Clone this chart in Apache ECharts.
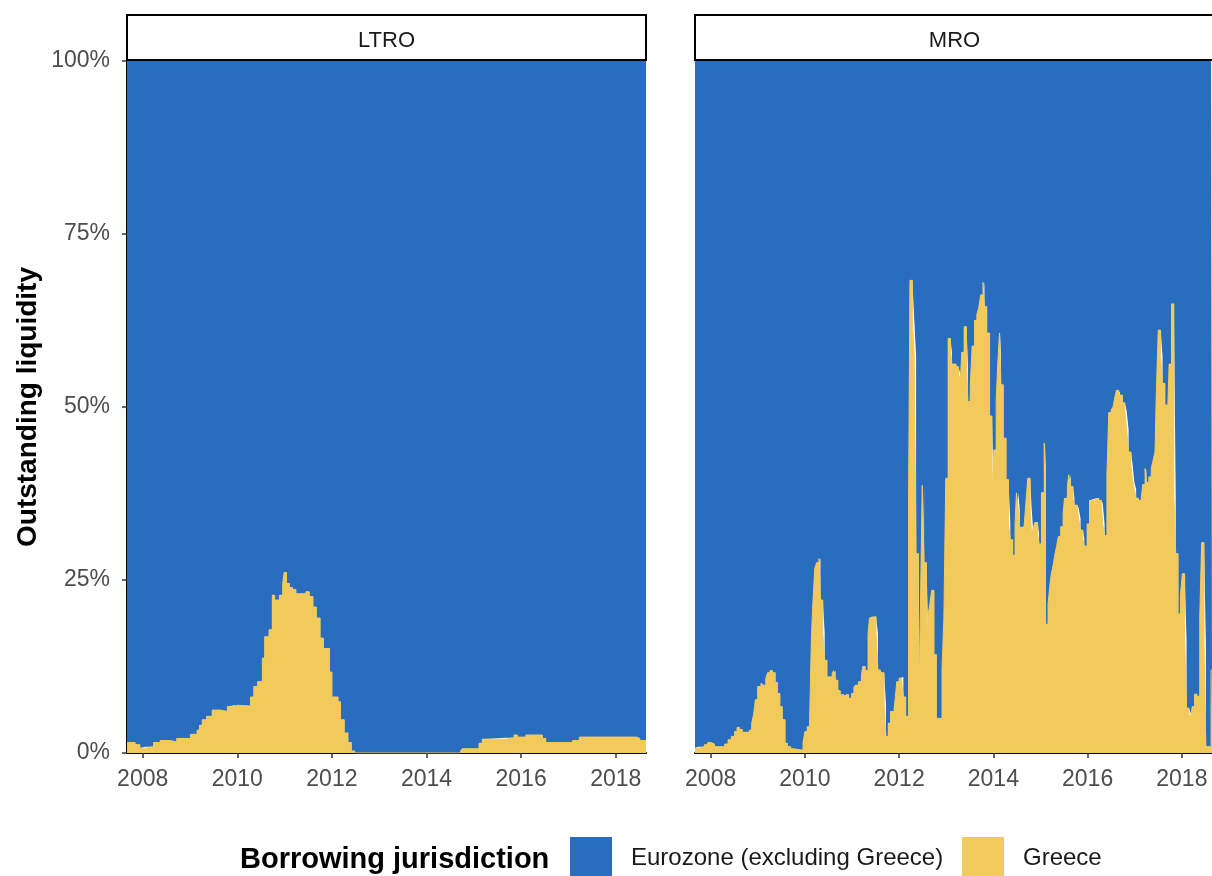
<!DOCTYPE html>
<html><head><meta charset="utf-8">
<script src="https://cdn.jsdelivr.net/npm/echarts@6/dist/echarts.min.js"></script>
<style>html,body{margin:0;padding:0;background:#fff}#c{width:1212px;height:876px}</style>
</head><body><div id="c"></div>
<script>
// ---------------- data ----------------
const facets = ['LTRO', 'MRO'];
const seriesNames = ['Eurozone (excluding Greece)', 'Greece'];
const legendTitle = 'Borrowing jurisdiction';
const yTitle = 'Outstanding liquidity';
const yTicks = [0, 25, 50, 75, 100];
const xTicks = [2008, 2010, 2012, 2014, 2016, 2018];
const xRange = [2007.668, 2018.64];

// Greece share (%) of outstanding LTRO liquidity; each value holds from its date to the next date
const ltroDates = [2007.668, 2007.84, 2007.94, 2008.05, 2008.23, 2008.37, 2008.58, 2008.72, 2009.01, 2009.15,
  2009.20, 2009.26, 2009.35, 2009.47, 2009.65, 2009.79, 2009.93, 2010.00, 2010.28, 2010.35,
  2010.43, 2010.53, 2010.58, 2010.67, 2010.74, 2010.79, 2010.89, 2010.96, 2010.99, 2011.04,
  2011.10, 2011.17, 2011.24, 2011.45, 2011.52, 2011.60, 2011.67, 2011.75, 2011.82, 2011.95,
  2012.00, 2012.13, 2012.18, 2012.26, 2012.34, 2012.41, 2012.48, 2014.72, 2014.75, 2015.11,
  2015.18, 2015.67, 2015.85, 2015.92, 2016.10, 2016.45, 2016.52, 2017.09, 2017.23, 2018.44,
  2018.51, 2018.64];
const ltroGreece = [1.5, 1.2, 0.7, 0.9, 1.5, 1.8, 1.6, 2.1, 2.7, 3.3,
  4.0, 4.8, 5.3, 6.2, 6.0, 6.7, 6.9, 6.8, 8.1, 9.6,
  10.3, 13.7, 16.8, 17.8, 22.8, 22.1, 22.8, 24.5, 26.1, 24.5,
  23.9, 23.6, 23.0, 23.3, 22.6, 21.1, 19.5, 16.6, 15.1, 11.7,
  8.1, 7.4, 4.8, 2.9, 1.5, 0.3, 0, 0.3, 0.6, 1.4,
  2.0, 2.2, 2.6, 2.3, 2.6, 2.1, 1.5, 1.8, 2.3, 2.1,
  1.8, 1.8];

// Greece share (%) of outstanding MRO liquidity
const mroDates = [2007.668, 2007.73, 2007.87, 2007.94, 2008.01, 2008.08, 2008.30, 2008.37, 2008.44, 2008.51,
  2008.56, 2008.61, 2008.67, 2008.82, 2008.87, 2008.91, 2008.95, 2009.00, 2009.07, 2009.10,
  2009.17, 2009.21, 2009.26, 2009.31, 2009.37, 2009.42, 2009.47, 2009.52, 2009.58, 2009.63,
  2009.70, 2009.77, 2009.96, 2010.00, 2010.05, 2010.10, 2010.14, 2010.17, 2010.21, 2010.25,
  2010.30, 2010.33, 2010.38, 2010.42, 2010.47, 2010.58, 2010.61, 2010.65, 2010.70, 2010.75,
  2010.83, 2010.87, 2010.93, 2010.99, 2011.04, 2011.07, 2011.14, 2011.20, 2011.23, 2011.28,
  2011.34, 2011.37, 2011.41, 2011.51, 2011.55, 2011.60, 2011.68, 2011.72, 2011.77, 2011.82,
  2011.87, 2011.91, 2011.95, 2012.00, 2012.05, 2012.09, 2012.14, 2012.20, 2012.23, 2012.28,
  2012.32, 2012.36, 2012.41, 2012.45, 2012.49, 2012.53, 2012.58, 2012.62, 2012.65, 2012.69,
  2012.74, 2012.79, 2012.91, 2012.95, 2012.99, 2013.04, 2013.09, 2013.12, 2013.21, 2013.26,
  2013.30, 2013.33, 2013.38, 2013.43, 2013.46, 2013.51, 2013.55, 2013.60, 2013.65, 2013.69,
  2013.73, 2013.78, 2013.81, 2013.86, 2013.92, 2013.97, 2014.01, 2014.06, 2014.09, 2014.13,
  2014.16, 2014.21, 2014.27, 2014.32, 2014.36, 2014.41, 2014.46, 2014.49, 2014.53, 2014.56,
  2014.65, 2014.69, 2014.73, 2014.78, 2014.81, 2014.85, 2014.88, 2014.94, 2014.97, 2015.02,
  2015.08, 2015.11, 2015.16, 2015.20, 2015.23, 2015.27, 2015.30, 2015.34, 2015.38, 2015.43,
  2015.48, 2015.51, 2015.57, 2015.60, 2015.64, 2015.69, 2015.72, 2015.78, 2015.81, 2015.85,
  2015.90, 2015.93, 2015.99, 2016.04, 2016.13, 2016.18, 2016.24, 2016.29, 2016.32, 2016.36,
  2016.41, 2016.45, 2016.50, 2016.54, 2016.57, 2016.61, 2016.66, 2016.69, 2016.74, 2016.79,
  2016.83, 2016.87, 2016.92, 2016.96, 2016.99, 2017.03, 2017.08, 2017.13, 2017.17, 2017.22,
  2017.25, 2017.30, 2017.35, 2017.39, 2017.43, 2017.46, 2017.50, 2017.55, 2017.59, 2017.64,
  2017.69, 2017.73, 2017.78, 2017.83, 2017.87, 2017.92, 2017.97, 2018.01, 2018.06, 2018.10,
  2018.15, 2018.19, 2018.22, 2018.27, 2018.32, 2018.38, 2018.42, 2018.47, 2018.51, 2018.62,
  2018.64];
const mroGreece = [0.7, 0.9, 1.2, 1.5, 1.3, 0.9, 1.3, 1.9, 2.4, 3.1,
  3.7, 3.4, 3.0, 3.3, 4.3, 5.5, 7.7, 9.6, 10.1, 9.8,
  10.8, 11.6, 11.9, 11.6, 10.2, 8.6, 6.7, 4.8, 1.4, 0.9,
  0.6, 0.4, 1.5, 3.1, 3.8, 4.8, 17.1, 21.7, 26.7, 27.5,
  28.1, 22.1, 17.3, 13.4, 11.0, 11.5, 11.9, 10.5, 9.0, 8.4,
  8.1, 8.4, 7.9, 8.6, 9.5, 9.8, 10.3, 11.3, 12.5, 11.9,
  17.1, 19.5, 19.7, 17.3, 12.0, 11.6, 7.1, 2.4, 4.3, 6.0,
  4.8, 7.4, 10.3, 10.8, 11.0, 8.1, 5.3, 36.8, 68.3, 62.8,
  57.3, 28.8, 0.4, 19.7, 38.7, 27.5, 16.3, 20.2, 21.4, 23.5,
  14.2, 5.0, 12.1, 19.5, 39.7, 59.9, 57.9, 56.2, 55.8, 54.7,
  53.9, 57.9, 61.6, 56.1, 50.8, 53.0, 58.8, 62.5, 63.4, 64.3,
  66.2, 68.0, 64.5, 60.7, 48.7, 36.7, 43.8, 50.9, 55.8, 60.7,
  53.2, 45.5, 39.5, 33.1, 30.8, 28.6, 33.1, 37.6, 35.1, 32.6,
  32.8, 36.1, 39.7, 35.6, 31.6, 32.6, 33.3, 31.7, 30.2, 37.6,
  44.8, 18.6, 21.5, 24.3, 25.9, 27.2, 28.5, 29.8, 31.3, 32.7,
  34.6, 36.8, 38.5, 40.2, 38.5, 36.8, 35.8, 35.4, 33.9, 32.2,
  31.0, 29.9, 33.1, 36.5, 36.7, 36.8, 36.5, 36.1, 33.1, 31.4,
  40.2, 49.2, 49.6, 50.0, 51.1, 52.4, 52.0, 51.7, 50.6, 49.4,
  46.7, 43.5, 41.4, 39.2, 38.1, 36.8, 36.5, 36.2, 38.8, 41.1,
  39.1, 39.9, 41.1, 42.3, 43.5, 52.5, 61.1, 57.3, 53.4, 50.3,
  47.3, 56.2, 64.9, 37.3, 28.8, 20.1, 22.8, 25.9, 16.3, 6.5,
  5.7, 5.1, 6.7, 8.5, 8.2, 19.5, 30.4, 15.8, 0.9, 12.0,
  12.0];

// ---------------- chart ----------------
const BLUE = '#2A6DBF', YELLOW = '#F2CA5C';
const FONT = '"Liberation Sans", Arial, sans-serif';

// rows are [share, date] so that the share column is the one that gets stacked
function build(dates, vals) {
  const n = Math.min(dates.length, vals.length);
  const g = [], e = [];
  for (let i = 0; i < n; i++) {
    g.push([vals[i], dates[i]]);
    e.push([100 - vals[i], dates[i]]);
  }
  return { g, e };
}

const panels = [
  { name: facets[0], data: build(ltroDates, ltroGreece), left: 127 },
  { name: facets[1], data: build(mroDates, mroGreece), left: 695 }
];
const PW = 519, PT = 61, PH = 692;

const grids = [], xAxes = [], yAxes = [], series = [], graphics = [];
panels.forEach((p, i) => {
  grids.push({ left: p.left, top: PT, width: PW, height: PH, containLabel: false });
  xAxes.push({
    type: 'value', gridIndex: i, min: xRange[0], max: xRange[1],
    axisLine: { show: true, onZero: false, lineStyle: { color: '#000', width: 2 } },
    axisTick: { show: true, customValues: xTicks, length: 5, lineStyle: { color: '#333', width: 1.5 } },
    axisLabel: {
      customValues: xTicks, color: '#4D4D4D', fontSize: 23, fontFamily: FONT, margin: 15,
      formatter: v => String(v)
    },
    splitLine: { show: false }, minorTick: { show: false }
  });
  yAxes.push({
    type: 'value', gridIndex: i, min: yTicks[0], max: yTicks[yTicks.length - 1], interval: 25,
    axisLine: { show: i === 0, onZero: false, lineStyle: { color: '#000', width: 2 } },
    axisTick: { show: i === 0, length: 5, lineStyle: { color: '#333', width: 1.5 } },
    axisLabel: { show: i === 0, formatter: '{value}%', color: '#4D4D4D', fontSize: 23, fontFamily: FONT, margin: 17 },
    splitLine: { show: false }
  });
  const common = {
    type: 'line', xAxisIndex: i, yAxisIndex: i, encode: { x: 1, y: 0 },
    step: 'end', stack: 'share' + i, symbol: 'none', showSymbol: false,
    emphasis: { disabled: true }
  };
  series.push(Object.assign({}, common, {
    name: seriesNames[1], data: p.data.g,
    lineStyle: { width: 1, color: YELLOW }, itemStyle: { color: YELLOW },
    areaStyle: { color: YELLOW, opacity: 1 }, z: 3
  }));
  series.push(Object.assign({}, common, {
    name: seriesNames[0], data: p.data.e,
    lineStyle: { width: 0, color: BLUE }, itemStyle: { color: BLUE },
    areaStyle: { color: BLUE, opacity: 1 }, z: 2
  }));
  graphics.push({
    type: 'rect', shape: { x: p.left, y: 15, width: PW, height: 45 },
    style: { fill: '#fff', stroke: '#000', lineWidth: 2 }, z: 10
  });
  graphics.push({
    type: 'text', x: p.left + PW / 2, y: 41, z: 11,
    style: { text: p.name, fill: '#1A1A1A', font: '22px ' + FONT, textAlign: 'center', textVerticalAlign: 'middle' }
  });
});

graphics.push({
  type: 'text', x: 28, y: 407, rotation: Math.PI / 2, z: 11,
  style: { text: yTitle, fill: '#000', font: 'bold 28px ' + FONT, textAlign: 'center', textVerticalAlign: 'middle' }
});
graphics.push({
  type: 'text', x: 240, y: 860, z: 11,
  style: { text: legendTitle, fill: '#000', font: 'bold 29px ' + FONT, textAlign: 'left', textVerticalAlign: 'middle' }
});

const legendCommon = {
  top: 837, padding: 0, itemWidth: 42, itemHeight: 42, icon: 'rect', selectedMode: false,
  itemStyle: { borderWidth: 0 },
  textStyle: { fontSize: 24, color: '#1A1A1A', fontFamily: FONT, padding: [0, 0, 0, 14] }
};

const option = {
  animation: false,
  backgroundColor: '#fff',
  grid: grids, xAxis: xAxes, yAxis: yAxes, series: series,
  legend: [
    Object.assign({}, legendCommon, { left: 570, data: [{ name: seriesNames[0], itemStyle: { color: BLUE } }] }),
    Object.assign({}, legendCommon, { left: 962, data: [{ name: seriesNames[1], itemStyle: { color: YELLOW } }] })
  ],
  graphic: graphics
};

const chart = echarts.init(document.getElementById('c'), null, { renderer: 'canvas' });
chart.setOption(option);
</script>
</body></html>
